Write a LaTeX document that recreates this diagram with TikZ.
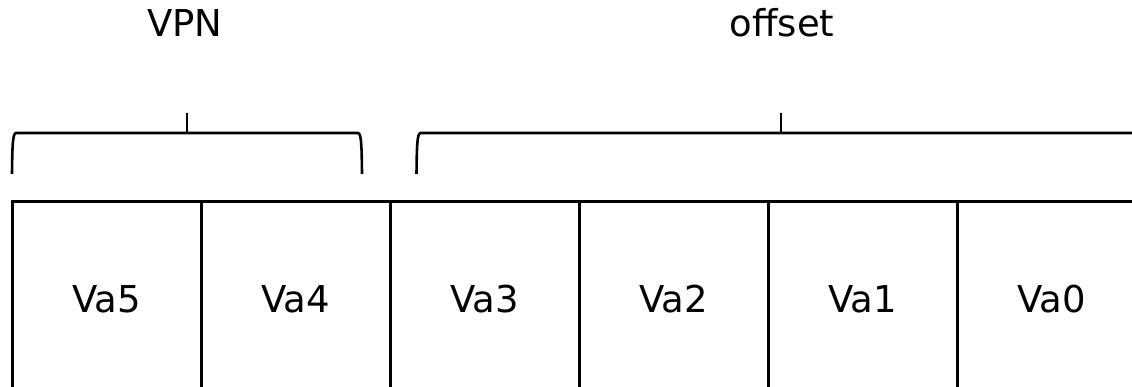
\documentclass[tikz,border=0pt]{standalone}
\usepackage{fontspec}
\setmainfont{DejaVu Sans}
\begin{document}
\begin{tikzpicture}[x=1pt,y=-1pt,line width=2.6pt,
  txt/.style={font=\fontsize{37}{44}\selectfont},
  cell/.style={txt,draw,minimum width=189pt,minimum height=200pt,anchor=north west,inner sep=0pt,text depth=5pt},
  head/.style={txt,anchor=base,inner sep=0pt},
  bracket/.style={line width=2.6pt}]
\useasboundingbox (0,0) rectangle (1132,387);
\clip (0,0) rectangle (1132,387);
% cells
\node[cell] (c5) at (11,200) {Va5};
\node[cell] (c4) at (200,200) {Va4};
\node[cell] (c3) at (389,200) {Va3};
\node[cell] (c2) at (578,200) {Va2};
\node[cell] (c1) at (767,200) {Va1};
\node[cell] (c0) at (956,200) {Va0};
% headers
\node[head] (vpn) at (185,37) {VPN};
\node[head] (off) at (782,37) {offset};
% brackets
\coordinate (t1) at (187,113);
\coordinate (t2) at (781,113);
\draw[bracket] (12,174) .. controls (12.3,148) and (12.5,133) .. (16,133) -- (358,133) .. controls (361.5,133) and (361.7,148) .. (362,174);
\draw[bracket] (187,133) -- (t1);
\draw[bracket] (416.5,174) .. controls (416.8,148) and (417,133) .. (420.5,133) -- (1142,133) .. controls (1145.5,133) and (1145.7,148) .. (1146,174);
\draw[bracket] (781,133) -- (t2);
\end{tikzpicture}
\end{document}
